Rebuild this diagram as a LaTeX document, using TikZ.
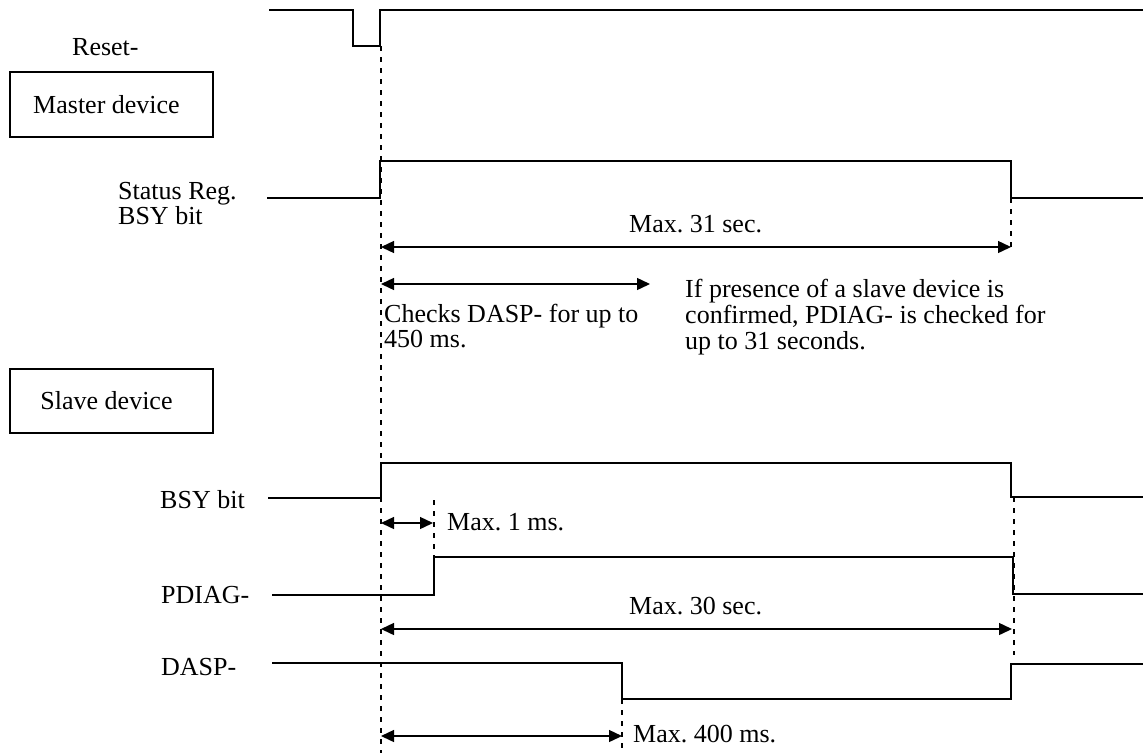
\documentclass[tikz,border=0pt]{standalone}
\usepackage{fontspec}
\setmainfont{Liberation Serif}
\usetikzlibrary{arrows.meta}
\frenchspacing
\begin{document}
\begin{tikzpicture}[x=1pt,y=-1pt,
  sig/.style={line width=1.4pt,line join=miter},
  dotv/.style={line width=2.4pt,dash pattern=on 4.5pt off 6.5pt},
  dim/.style={line width=1.4pt,{Triangle[length=13pt,width=12pt]}-{Triangle[length=13pt,width=12pt]}},
  lbl/.style={anchor=base west,inner sep=0pt,font=\fontsize{26}{26}\selectfont},
  devbox/.style={draw,line width=1.1pt,minimum width=203pt,inner sep=0pt,font=\fontsize{26}{26}\selectfont}]
\useasboundingbox (0,0) rectangle (1143,753);

% device boxes
\node[devbox,minimum height=65pt] (master) at (111.5,104.5) {\hspace*{-10pt}Master device};
\node[devbox,minimum height=64pt] (slave) at (111.5,401) {\hspace*{-10pt}Slave device};

% left labels
\node[lbl] (lreset) at (72,55) {Reset-};
\node[lbl,align=left,font=\fontsize{26}{22.5}\selectfont] (lstatus) at (118,224) {Status Reg.\\BSY bit};
\node[lbl] (lsbsy) at (160,508) {BSY bit};
\node[lbl] (lpdiag) at (161,603) {PDIAG-};
\node[lbl] (ldasp) at (161,675) {DASP-};

% reset signal
\draw[sig] (269,10) coordinate (r0) -- (353,10) -- (353,46) -- (380,46) coordinate (rr) -- (380,10) -- (1143,10) coordinate (r1);
% main dotted reference line
\coordinate (t0top) at (381,46);
\coordinate (t0bot) at (381,753);
\draw[dotv] (t0top) -- (t0bot);

% master status BSY
\draw[sig] (267,198) coordinate (m0) -- (380,198) -- (380,161) -- (1011,161) -- (1011,198) coordinate (mf) -- (1143,198) coordinate (m1);
\coordinate (m31a) at (381,247);
\coordinate (m31b) at (1011,247);
\draw[dotv] (mf) -- (m31b);
\draw[dim] (m31a) -- (m31b);
\node[lbl] (l31) at (629,232) {Max. 31 sec.};

\coordinate (c450a) at (381,284);
\coordinate (c450b) at (650,284);
\draw[dim] (c450a) -- (c450b);
\node[lbl,align=left,font=\fontsize{26}{25}\selectfont] (lchecks) at (384,347) {Checks DASP- for up to\\450 ms.};
\node[lbl,align=left,font=\fontsize{26}{26}\selectfont] (lif) at (685,349) {If presence of a slave device is\\confirmed, PDIAG- is checked for\\up to 31 seconds.};

% slave BSY
\draw[sig] (268,498) coordinate (s0) -- (381,498) -- (381,463) -- (1011,463) -- (1011,497) -- (1143,497) coordinate (s1);
\coordinate (d1a) at (381,523);
\coordinate (d1b) at (433,523);
\draw[dim] (d1a) -- (d1b);
\coordinate (p1top) at (434,500);
\coordinate (p1bot) at (434,557);
\draw[dotv] (p1top) -- (p1bot);
\node[lbl] (l1ms) at (447,530) {Max. 1 ms.};

% PDIAG-
\draw[sig] (272,595) coordinate (p0) -- (434,595) -- (434,557) -- (1013,557) -- (1013,594) -- (1143,594) coordinate (p1);
\coordinate (e30top) at (1014,497);
\coordinate (e30bot) at (1014,655);
\draw[dotv] (e30top) -- (e30bot);
\coordinate (d30a) at (381,629);
\coordinate (d30b) at (1012,629);
\draw[dim] (d30a) -- (d30b);
\node[lbl] (l30) at (629,614) {Max. 30 sec.};

% DASP-
\draw[sig] (272,663) coordinate (da0) -- (622,663) -- (622,699) coordinate (dafall) -- (1011,699) -- (1011,664) -- (1143,664) coordinate (da1);
\coordinate (d400a) at (381,736);
\coordinate (d400b) at (622,736);
\coordinate (d400bot) at (622,753);
\draw[dotv] (dafall) -- (d400bot);
\draw[dim] (d400a) -- (d400b);
\node[lbl] (l400) at (633,742) {Max. 400 ms.};
\end{tikzpicture}
\end{document}
